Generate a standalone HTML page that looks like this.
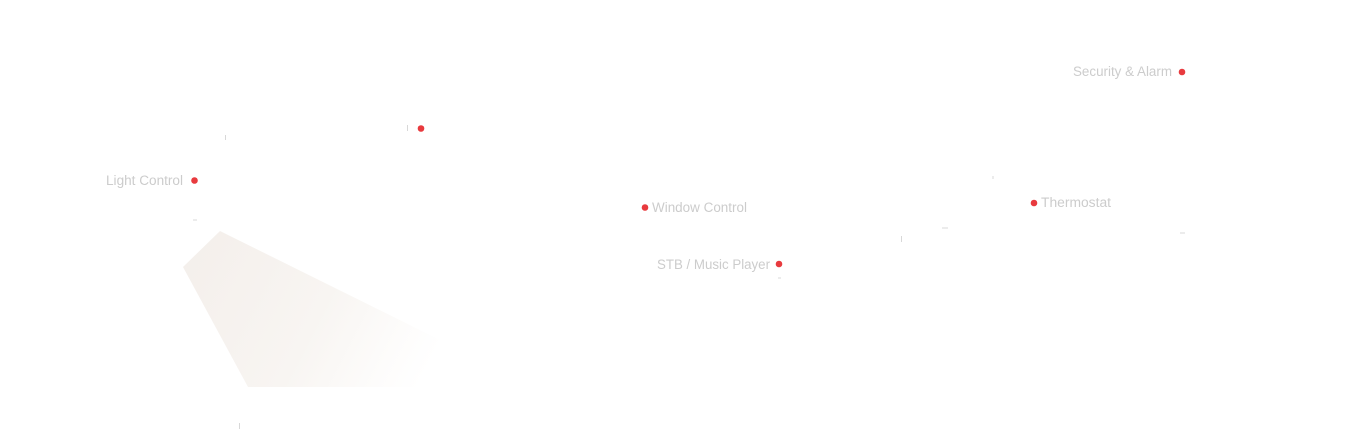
<!DOCTYPE html>
<html>
<head>
<meta charset="utf-8">
<style>
html,body{margin:0;padding:0;background:#fff;}
body{width:1365px;height:434px;overflow:hidden;}
svg{display:block;}
text{font-family:"Liberation Sans",sans-serif;font-size:13.5px;fill:#cccccc;}
</style>
</head>
<body>
<svg width="1365" height="434" viewBox="0 0 1365 434" xmlns="http://www.w3.org/2000/svg">
  <defs>
    <linearGradient id="g" x1="183" y1="250" x2="425" y2="375" gradientUnits="userSpaceOnUse">
      <stop offset="0" stop-color="#f4efeb"/>
      <stop offset="0.55" stop-color="#f8f5f2"/>
      <stop offset="0.85" stop-color="#fdfcfb"/>
      <stop offset="1" stop-color="#ffffff"/>
    </linearGradient>
  </defs>
  <polygon points="220,231 183,267 248,387 440,387 440,340" fill="url(#g)"/>

  <!-- faint ticks -->
  <g stroke="#d8d8d8" stroke-width="1">
    <line x1="225.5" y1="135" x2="225.5" y2="140"/>
    <line x1="407.5" y1="125" x2="407.5" y2="131"/>
    <line x1="239.5" y1="423" x2="239.5" y2="429"/>
    <line x1="901.5" y1="236" x2="901.5" y2="242"/>
    <line x1="993" y1="176" x2="993" y2="179"/>
    <line x1="942" y1="228" x2="948" y2="228"/>
    <line x1="1180" y1="233" x2="1185" y2="233"/>
    <line x1="193" y1="220" x2="197" y2="220"/>
    <line x1="778" y1="278" x2="781" y2="278"/>
  </g>

  <!-- dots -->
  <g fill="#e83a3e">
    <circle cx="194.5" cy="180.5" r="3.3"/>
    <circle cx="421" cy="128.5" r="3.3"/>
    <circle cx="645" cy="207.5" r="3.3"/>
    <circle cx="779" cy="264" r="3.3"/>
    <circle cx="1034" cy="203" r="3.3"/>
    <circle cx="1182" cy="72" r="3.3"/>
  </g>

  <!-- labels -->
  <text x="106" y="185" textLength="77" lengthAdjust="spacingAndGlyphs">Light Control</text>
  <text x="652" y="212" textLength="95" lengthAdjust="spacingAndGlyphs">Window Control</text>
  <text x="657" y="269" textLength="113" lengthAdjust="spacingAndGlyphs">STB / Music Player</text>
  <text x="1041" y="207" textLength="70" lengthAdjust="spacingAndGlyphs">Thermostat</text>
  <text x="1073" y="76" textLength="99" lengthAdjust="spacingAndGlyphs">Security &amp; Alarm</text>
</svg>
</body>
</html>
